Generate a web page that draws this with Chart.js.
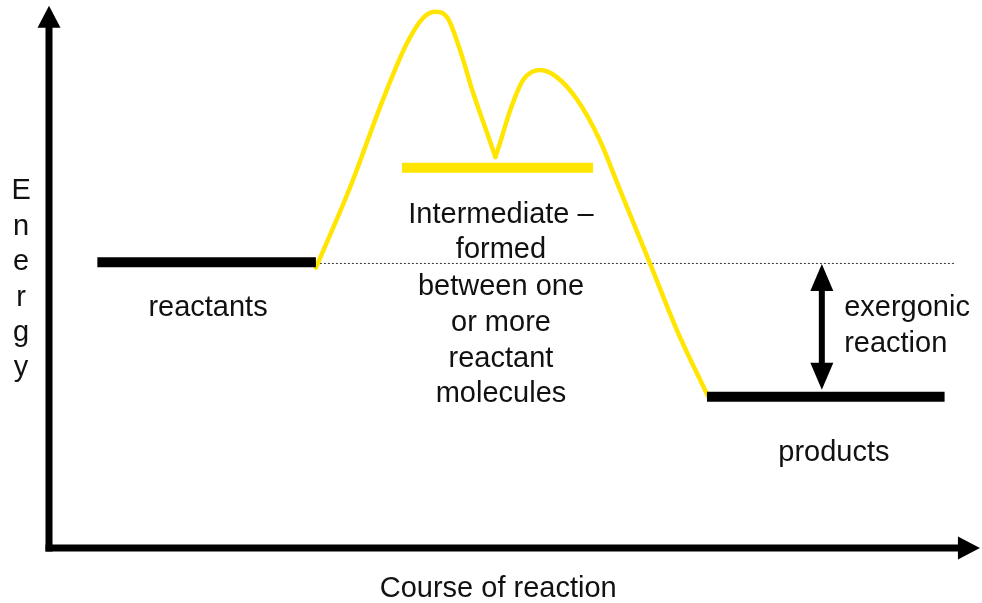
<!DOCTYPE html>
<html>
<head>
<meta charset="utf-8">
<script src="https://cdn.jsdelivr.net/npm/chart.js@4/dist/chart.umd.min.js"></script>
<style>
  html, body { margin: 0; padding: 0; background: #ffffff; }
  #wrap { width: 982px; height: 603px; position: relative; }
</style>
</head>
<body>
<div id="wrap"><canvas id="c"></canvas></div>
<script>
// ---- data (x = course of reaction 0..100, y = energy 0..100) ----
const reactantLevel = [{x: 5.2, y: 52.9}, {x: 28.7, y: 52.9}];
const productLevel = [{x: 70.75, y: 28.0}, {x: 96.3, y: 28.0}];
const intermediateLevel = [{x: 37.96, y: 70.4}, {x: 58.5, y: 70.4}];
const referenceLine = [{x: 28.7, y: 52.7}, {x: 97.4, y: 52.7}];
const firstHump = [
  {x: 28.7, y: 51.9}, {x: 32.4, y: 66.9}, {x: 35.9, y: 83.0}, {x: 38.5, y: 93.5},
  {x: 40.2, y: 98.1}, {x: 41.5, y: 99.3}, {x: 42.8, y: 98.3}, {x: 44.2, y: 92.2},
  {x: 45.6, y: 84.3}, {x: 47.1, y: 76.9}, {x: 48.0, y: 72.4}
];
const secondHump = [
  {x: 48.0, y: 72.4}, {x: 48.5, y: 75.0}, {x: 49.6, y: 81.1}, {x: 51.0, y: 86.7},
  {x: 52.8, y: 88.5}, {x: 54.6, y: 87.2}, {x: 56.8, y: 83.0}, {x: 59.2, y: 75.6},
  {x: 61.4, y: 66.3}, {x: 64.6, y: 52.8}, {x: 67.5, y: 40.4}, {x: 70.8, y: 28.3}
];
const energyArrow = {x: 83.1, yTop: 52.6, yBottom: 29.3};
const labels = [
  {text: 'reactants', x: 17.1, y: 42.9, align: 'center'},
  {text: 'Intermediate –', x: 48.6, y: 60.2, align: 'center'},
  {text: 'formed', x: 48.6, y: 53.7, align: 'center'},
  {text: 'between one', x: 48.6, y: 46.9, align: 'center'},
  {text: 'or more', x: 48.6, y: 40.2, align: 'center'},
  {text: 'reactant', x: 48.6, y: 33.5, align: 'center'},
  {text: 'molecules', x: 48.6, y: 27.0, align: 'center'},
  {text: 'exergonic', x: 85.5, y: 42.9, align: 'left'},
  {text: 'reaction', x: 85.5, y: 36.3, align: 'left'},
  {text: 'products', x: 84.4, y: 16.1, align: 'center'},
  {text: 'Course of reaction', x: 48.3, y: -9.1, align: 'center'}
];
const yAxisTitle = ['E', 'n', 'e', 'r', 'g', 'y'];
const yAxisTitleX = -3.0;
const yAxisTitleBaselines = [64.6, 58.0, 51.5, 44.9, 38.3, 31.8];
const axisTips = {x: 100.1, y: 100.4};

const YELLOW = '#FFE500';
const FONT = '29px "Liberation Sans", Arial, sans-serif';

const diagramPlugin = {
  id: 'diagram',
  afterDatasetsDraw(chart) {
    const ctx = chart.ctx;
    const xs = chart.scales.x, ys = chart.scales.y;
    const px = v => xs.getPixelForValue(v);
    const py = v => ys.getPixelForValue(v);
    ctx.save();
    // axes
    const ox = px(0), oy = py(0);
    const topTip = py(axisTips.y), rightTip = px(axisTips.x);
    const head = 22, half = 11.5, lw = 7;
    ctx.fillStyle = '#000';
    ctx.fillRect(ox - lw / 2, topTip + head - 1, lw, oy + lw / 2 - (topTip + head - 1));
    ctx.fillRect(ox - lw / 2, oy - lw / 2, rightTip - head + 1 - (ox - lw / 2), lw);
    ctx.beginPath();
    ctx.moveTo(ox, topTip); ctx.lineTo(ox - half, topTip + head); ctx.lineTo(ox + half, topTip + head);
    ctx.closePath(); ctx.fill();
    ctx.beginPath();
    ctx.moveTo(rightTip, oy); ctx.lineTo(rightTip - head, oy - half); ctx.lineTo(rightTip - head, oy + half);
    ctx.closePath(); ctx.fill();
    // double arrow
    const ax = px(energyArrow.x), at = py(energyArrow.yTop), ab = py(energyArrow.yBottom);
    const ah = 27, aw = 11.5, sw = 6;
    ctx.fillRect(ax - sw / 2, at + ah - 1, sw, ab - at - 2 * ah + 2);
    ctx.beginPath();
    ctx.moveTo(ax, at); ctx.lineTo(ax - aw, at + ah); ctx.lineTo(ax + aw, at + ah); ctx.closePath(); ctx.fill();
    ctx.beginPath();
    ctx.moveTo(ax, ab); ctx.lineTo(ax - aw, ab - ah); ctx.lineTo(ax + aw, ab - ah); ctx.closePath(); ctx.fill();
    // labels
    ctx.font = FONT;
    ctx.fillStyle = '#111';
    ctx.textBaseline = 'alphabetic';
    labels.forEach(l => {
      ctx.textAlign = l.align;
      ctx.fillText(l.text, px(l.x), py(l.y));
    });
    ctx.textAlign = 'center';
    yAxisTitle.forEach((ch, i) => ctx.fillText(ch, px(yAxisTitleX), py(yAxisTitleBaselines[i])));
    ctx.restore();
  }
};

const lineDs = (data, color, width, extra) => Object.assign({
  data, borderColor: color, borderWidth: width, pointRadius: 0, fill: false,
  borderCapStyle: 'butt', tension: 0, clip: false
}, extra || {});

new Chart(document.getElementById('c'), {
  type: 'line',
  data: {
    datasets: [
      lineDs(reactantLevel, '#000', 10),
      lineDs(productLevel, '#000', 10),
      lineDs(firstHump, YELLOW, 4.5, {cubicInterpolationMode: 'monotone', borderCapStyle: 'round', borderJoinStyle: 'round'}),
      lineDs(secondHump, YELLOW, 4.5, {cubicInterpolationMode: 'monotone', borderCapStyle: 'round', borderJoinStyle: 'round'}),
      lineDs(intermediateLevel, YELLOW, 10),
      lineDs(referenceLine, '#333', 1, {borderDash: [2, 2]})
    ]
  },
  options: {
    responsive: true,
    maintainAspectRatio: false,
    animation: false,
    events: [],
    layout: {padding: {left: 49, right: 3, top: 8, bottom: 55}},
    scales: {
      x: {type: 'linear', min: 0, max: 100, display: false},
      y: {type: 'linear', min: 0, max: 100, display: false}
    },
    plugins: {legend: {display: false}, tooltip: {enabled: false}, title: {display: false}}
  },
  plugins: [diagramPlugin]
});
</script>
</body>
</html>
